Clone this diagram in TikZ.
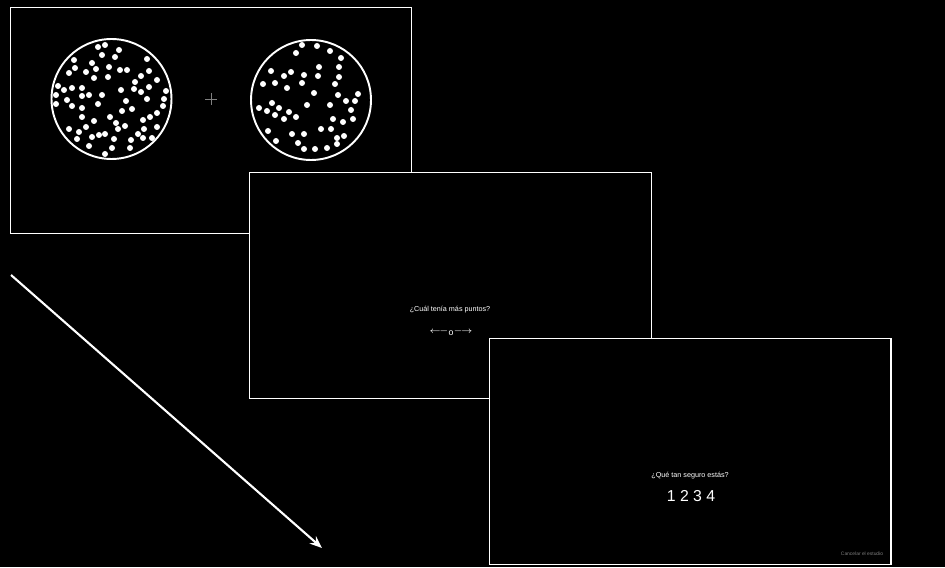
\documentclass[tikz,border=0pt]{standalone}
\usepackage{fontspec}
\setmainfont{Liberation Sans}
\usetikzlibrary{arrows.meta}
\begin{document}
\begin{tikzpicture}[x=0.02cm,y=-0.02cm,
  screen/.style={draw=white,fill=black,line width=0.6pt,minimum width=8.04cm,minimum height=4.52cm,inner sep=0},
  plate/.style={draw=white,line width=1.1pt,circle,minimum size=2.4cm,inner sep=0},
  dot/.style={fill=white},
  prompt/.style={text=white,font=\fontsize{4.1}{5}\selectfont,inner sep=0},
  totime/.style={draw=white,line width=1.2pt,-{Stealth[length=7pt,width=5.5pt]}}]
\fill[black] (0,0) rectangle (945,567);
\useasboundingbox (0,0) rectangle (945,567);
% first screen: the two sets of dots
\node[screen] (S1) at (211,120.5) {};
\node[plate] (L) at (111.5,99) {};
\node[plate] (R) at (311,100) {};
\foreach \x/\y in {98/47,105/45,119/50,102/55,115/57,147/59,74/60,92/63,75/68,69/73,86/72,96/69,
  109/67,120/70,127/70,149/71,94/78,108/77,141/76,157/80,135/82,58/86,64/90,72/88,82/88,134/89,
  149/87,121/90,141/92,166/91,56/95,82/96,89/95,102/95,147/99,67/100,126/101,164/99,56/104,72/106,
  98/104,163/106,82/108,122/111,132/109,157/113,82/117,94/121,110/117,150/117,143/120,116/123,
  69/129,79/132,86/127,125/126,118/129,144/129,157/127,138/134,77/139,92/137,99/135,105/134,
  114/139,131/140,152/138,143/138,89/146,112/148,130/148,105/154}
  \fill[dot] (\x,\y) circle (0.06cm);
\foreach \x/\y in {302/45,317/46,296/53,330/51,341/58,319/67,339/67,271/71,291/72,284/76,304/75,
  318/76,339/77,263/84,275/83,302/83,287/88,335/84,314/93,338/95,358/94,346/101,355/101,272/103,
  307/105,330/105,259/108,279/108,267/111,289/112,351/110,275/115,296/117,284/119,333/119,343/122,
  353/119,321/129,331/129,268/131,292/134,304/134,337/138,344/136,276/141,298/143,337/144,304/149,
  315/149,327/148}
  \fill[dot] (\x,\y) circle (0.06cm);
\node (fix) at (211,99) {};
\draw[gray,line width=0.4pt] (205,99) -- (217,99) (211,93) -- (211,105);
% second screen: the choice
\node[screen] (S2) at (450.5,285.5) {};
\node[prompt] (Q1) at (450,310) {¿Cuál tenía más puntos?};
\node[text=white,inner sep=0,font=\fontsize{5.3}{6}\selectfont] (keys) at (451,333) {$\longleftarrow$\raisebox{-0.3ex}{\tiny o}$\longrightarrow$};
% third screen: the confidence
\node[screen] (S3) at (690,451.5) {};
\node[prompt] (Q2) at (690,476) {¿Qué tan seguro estás?};
\node[text=white,inner sep=0,font=\fontsize{9}{10}\selectfont] (scale) at (691,496) {1 2 3 4};
\node[text=gray,inner sep=0,font=\fontsize{2.8}{3}\selectfont] (quit) at (862,554) {Cancelar el estudio};
% time
\coordinate (t0) at (11,275);
\coordinate (t1) at (322,548);
\draw[totime] (t0) -- (t1);
\end{tikzpicture}
\end{document}
